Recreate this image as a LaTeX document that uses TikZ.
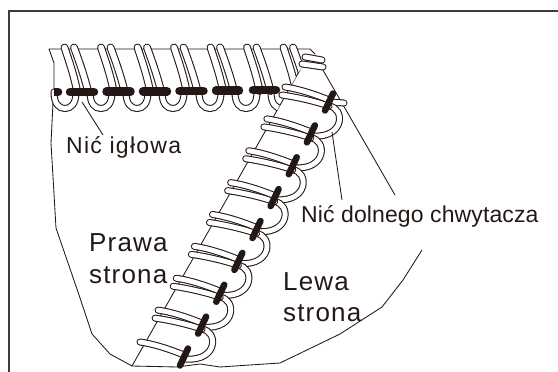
\documentclass[tikz,border=0pt]{standalone}
\usepackage{fontspec}
\setmainfont{Liberation Sans}
\newfontfamily\fa[LetterSpace=5.5]{Liberation Sans}
\newfontfamily\fb[LetterSpace=4.5]{Liberation Sans}
\newfontfamily\fc[LetterSpace=0.5]{Liberation Sans}
\definecolor{ink}{HTML}{231815}
\tikzset{
  thin line/.style={draw=ink,line width=.85pt,line join=round},
  frame line/.style={draw=ink!85,line width=1.3pt},
  thread/.style={draw=ink,line width=1.05pt,double=white,double distance=4.9pt,line cap=round},
  tall thread/.style={draw=ink,line width=1.05pt,double=white,double distance=5.8pt,line cap=round},
  bar/.style={draw=ink,line width=6.5pt,line cap=round},
  dash seg/.style={draw=ink,line width=8.5pt,line cap=round},
  lbl/.style={anchor=base west,inner sep=0pt,text=ink}
}
\begin{document}
\begin{tikzpicture}[x=1pt,y=-1pt]
\useasboundingbox (0,0) rectangle (558,372);
\draw[frame line] (9,372) -- (9,11) -- (558,11);
% fabric outline
\draw[thin line] (54,90) -- (53,103) -- (51,143) -- (56,228) -- (78,292) -- (92,334) -- (110,354) -- (132,366) -- (177,367) -- (200,364) -- (220,367) -- (280,363) -- (340,334) -- (382,307) -- (403,280) -- (422,250);
\draw[thin line] (54,90) -- (54,63) -- (49,49) -- (310,49) -- (315,54);
% seam
\coordinate (seamA) at (132,366);
\coordinate (seamB) at (300,70);
\draw[thin line] (seamA) -- (seamB);
% hanging loops
\foreach \c in {65,101,137,173,210,246}{
  \draw[thread] (\c-11,92) .. controls (\c-11,104) and (\c-6,108.5) .. (\c,108.5) .. controls (\c+6,108.5) and (\c+11,104) .. (\c+11,92);
}
\begin{scope}
\clip (0,366) -- (132,366) -- (305,61) -- (305,0) -- (0,0) -- cycle;
\draw[thread] (271,92) .. controls (271,104) and (276,108.5) .. (282,108.5) .. controls (288,108.5) and (293,104) .. (293,92);
% top slanted stitches
\foreach \k in {0,...,6}{
  \pgfmathsetmacro{\dx}{\k*36.5}
  \begin{scope}[xshift=\dx pt]
    \draw[tall thread] (64.5,47.5) .. controls (68,58) and (74,75) .. (77,91);
    \draw[tall thread] (74,47.5) .. controls (78,58) and (84,75) .. (88,91);
  \end{scope}
}
\end{scope}
% dashed seam
\draw[dash seg,line cap=butt] (54,92) -- (58,92);
\draw[dash seg] (58,92) -- (58.1,92);
\foreach \a/\b/\y in {70/94/92,106.5/130.5/91.7,143/167/91.4,179.5/203.5/91,216/239/90.6,253/276/90.2}{
  \draw[dash seg] (\a,\y) -- (\b,\y);
}
% leader lines
\coordinate (leadA) at (82,102);
\coordinate (leadB) at (103,135);
\coordinate (leadC) at (320,65);
\coordinate (leadD) at (395,195);
\coordinate (leadE) at (332,132);
\coordinate (leadF) at (342,200);
\draw[thin line] (leadC) -- (leadD);
% top stack
\draw[thread] (305,57) .. controls (312,58) and (316,59) .. (322,60);
\draw[thread] (302,64) .. controls (310,65) and (316,66) .. (323,67);
% stub
\draw[thread] (329,102) -- (344,103);
% loops between bars
\foreach \k in {0,...,7}{
  \pgfmathsetmacro{\cx}{329-18.125*\k}
  \pgfmathsetmacro{\cy}{102+31.875*\k}
  \begin{scope}[shift={(\cx pt,-\cy pt)}]
    \draw[thread] (0,4) .. controls (16,6) and (16,36) .. (-16,34);
  \end{scope}
}
\draw[thin line] (leadE) -- (leadF);
\draw[thin line] (leadA) -- (leadB);
% stitches across the seam
\foreach \k in {0,...,8}{
  \pgfmathsetmacro{\cx}{329-18.125*\k}
  \pgfmathsetmacro{\cy}{102+31.875*\k}
  \begin{scope}[shift={(\cx pt,-\cy pt)}]
    \ifnum\k<8
      \draw[thread] (-47,-7) .. controls (-33,-5) and (-15,-1) .. (0,4);
    \fi
    \draw[thread] (-44,-15) .. controls (-30,-13) and (-15,-8) .. (0,-2);
    \draw[bar] (4,-8.5) -- (-4,8.5);
  \end{scope}
}
% labels
\node[lbl,font=\fontsize{23}{23}\fa] (igla) at (66,153) {Nić igłowa};
\node[lbl,font=\fontsize{23}{23}\fc] (chwyt) at (301,222) {Nić dolnego chwytacza};
\node[lbl,font=\fontsize{26}{26}\fb] (prawa) at (89,251) {Prawa};
\node[lbl,font=\fontsize{26}{26}\fb] (pstrona) at (89,283) {strona};
\node[lbl,font=\fontsize{26}{26}\fb] (lewa) at (283,290) {Lewa};
\node[lbl,font=\fontsize{26}{26}\fb] (lstrona) at (283,321) {strona};
\end{tikzpicture}
\end{document}
